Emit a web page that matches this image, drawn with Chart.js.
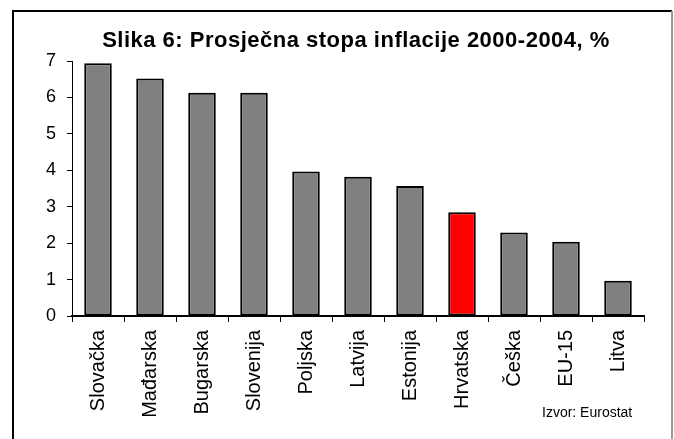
<!DOCTYPE html>
<html>
<head>
<meta charset="utf-8">
<script src="https://cdn.jsdelivr.net/npm/chart.js"></script>
<style>
  body { margin: 0; background: #fff; }
</style>
</head>
<body>
<canvas id="inflationChart" width="674" height="439"></canvas>

<script>
    // Prosječna stopa inflacije 2000-2004 (%), izvor: Eurostat
    const countries = ['Slovačka', 'Mađarska', 'Bugarska', 'Slovenija', 'Poljska', 'Latvija', 'Estonija', 'Hrvatska', 'Češka', 'EU-15', 'Litva'];
    const inflation = [6.94, 6.52, 6.13, 6.13, 3.97, 3.82, 3.57, 2.85, 2.29, 2.04, 0.97];
    const yTicks = [0, 1, 2, 3, 4, 5, 6, 7];

    const TITLE = 'Slika 6: Prosječna stopa inflacije 2000-2004, %';
    const SOURCE = 'Izvor: Eurostat';
    const FONT = 'Arial, "Liberation Sans", sans-serif';

    // Hrvatska is highlighted in red
    const barColors = countries.map(c => c === 'Hrvatska' ? '#ff0000' : '#808080');

    // frame, title and source note (title is drawn here so it can sit off-centre like the original)
    const framePlugin = {
        id: 'frame',
        afterDraw(chart) {
            const ctx = chart.ctx;
            ctx.save();
            ctx.lineWidth = 2;
            ctx.strokeStyle = '#000';
            ctx.beginPath();
            ctx.moveTo(13, 450);
            ctx.lineTo(13, 11);
            ctx.lineTo(672, 11);
            ctx.stroke();
            ctx.strokeStyle = '#999';
            ctx.beginPath();
            ctx.moveTo(672, 11);
            ctx.lineTo(672, 450);
            ctx.stroke();

            ctx.fillStyle = '#000';
            ctx.textBaseline = 'middle';
            ctx.textAlign = 'center';
            ctx.font = 'bold 22px ' + FONT;
            ctx.letterSpacing = '0.5px';
            ctx.fillText(TITLE, 356, 41);
            ctx.letterSpacing = '0px';

            ctx.font = '14px ' + FONT;
            ctx.textAlign = 'left';
            ctx.fillText(SOURCE, 542, 413);
            ctx.restore();
        }
    };

    const ctx = document.getElementById('inflationChart').getContext('2d');
    new Chart(ctx, {
        type: 'bar',
        data: {
            labels: countries,
            datasets: [{
                data: inflation,
                backgroundColor: barColors,
                borderColor: '#000',
                borderWidth: 2,
                borderSkipped: false,
                categoryPercentage: 1,
                barPercentage: 0.53
            }]
        },
        options: {
            responsive: false,
            animation: false,
            layout: {
                padding: { left: 0, right: 30, top: 61, bottom: 0 }
            },
            plugins: {
                legend: { display: false },
                tooltip: { enabled: false },
                title: { display: false }
            },
            scales: {
                x: {
                    afterFit: s => { s.height = 123; },
                    border: { color: '#000', width: 2 },
                    grid: {
                        offset: true,
                        drawOnChartArea: false,
                        drawTicks: true,
                        tickLength: 6,
                        color: '#000',
                        lineWidth: 1
                    },
                    ticks: {
                        color: '#000',
                        font: { family: FONT, size: 20 },
                        minRotation: 90,
                        maxRotation: 90,
                        padding: 8
                    }
                },
                y: {
                    min: 0,
                    max: 7,
                    afterFit: s => { s.width = 72; },
                    afterBuildTicks: s => { s.ticks = yTicks.map(v => ({ value: v })); },
                    border: { color: '#000', width: 1 },
                    grid: {
                        drawOnChartArea: false,
                        drawTicks: true,
                        tickLength: 5,
                        color: '#000'
                    },
                    ticks: {
                        color: '#000',
                        font: { family: FONT, size: 18 },
                        padding: 11
                    }
                }
            }
        },
        plugins: [framePlugin]
    });
</script>
</body>
</html>
